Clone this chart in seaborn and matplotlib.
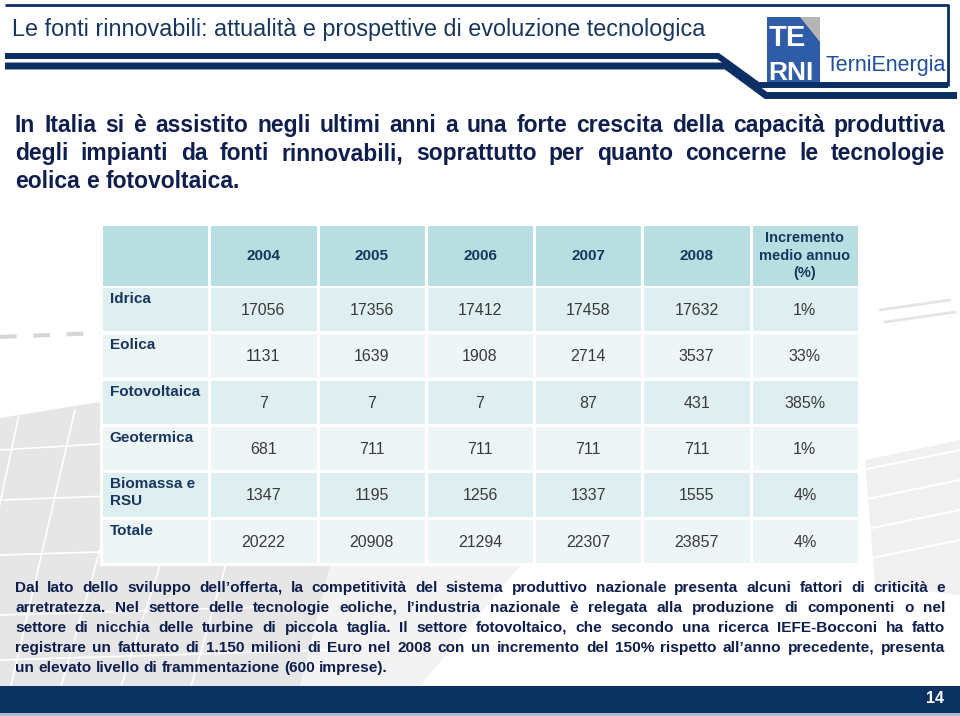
import numpy as np
import pandas as pd
import matplotlib
matplotlib.use("Agg")
import matplotlib.pyplot as plt
import seaborn as sns
from matplotlib.colors import ListedColormap
from matplotlib.patches import Polygon, Rectangle

# dati della tabella (MW installati)
fonti = ["Idrica", "Eolica", "Fotovoltaica", "Geotermica", "Biomassa e\nRSU", "Totale"]
anni = ["2004", "2005", "2006", "2007", "2008"]
idrica = [17056, 17356, 17412, 17458, 17632]
eolica = [1131, 1639, 1908, 2714, 3537]
fotovoltaica = [7, 7, 7, 87, 431]
geotermica = [681, 711, 711, 711, 711]
biomassa = [1347, 1195, 1256, 1337, 1555]
totale = [20222, 20908, 21294, 22307, 23857]
incremento = ["1%", "33%", "385%", "1%", "4%", "4%"]

titolo = "Le fonti rinnovabili: attualità e prospettive di evoluzione tecnologica"
intro = ["In Italia si è assistito negli ultimi anni a una forte crescita della capacità produttiva",
         "degli impianti da fonti rinnovabili, soprattutto per quanto concerne le tecnologie",
         "eolica e fotovoltaica."]
nota = ["Dal lato dello sviluppo dell’offerta, la competitività del sistema produttivo nazionale presenta alcuni fattori di criticità e",
        "arretratezza. Nel settore delle tecnologie eoliche, l’industria nazionale è relegata alla produzione di componenti o nel",
        "settore di nicchia delle turbine di piccola taglia. Il settore fotovoltaico, che secondo una ricerca IEFE-Bocconi ha fatto",
        "registrare un fatturato di 1.150 milioni di Euro nel 2008 con un incremento del 150% rispetto all’anno precedente, presenta",
        "un elevato livello di frammentazione (600 imprese)."]
pagina = "14"

tab = pd.DataFrame([idrica, eolica, fotovoltaica, geotermica, biomassa, totale],
                   index=fonti, columns=anni)
tab["Incremento"] = incremento

sns.set_theme(style="white")
FONT = ["Liberation Sans", "DejaVu Sans"]
plt.rcParams["font.family"] = FONT

NAVY = "#0b2f64"
W, H = 960, 716
fig = plt.figure(figsize=(9.6, 7.16), dpi=100)
fig.patch.set_facecolor("white")

# asse di sfondo in pixel
bg = fig.add_axes([0, 0, 1, 1])
bg.set_xlim(0, W)
bg.set_ylim(H, 0)
bg.axis("off")

# sfondo grigio sbiadito (foto pannelli)
bg.add_patch(Polygon([(0, 418), (100, 402), (100, 566), (330, 566), (300, 686), (0, 686)],
                     closed=True, color="#dedede", alpha=0.75, lw=0, zorder=0))
bg.add_patch(Polygon([(330, 566), (520, 566), (420, 686), (300, 686)],
                     closed=True, color="#eeeeee", alpha=0.7, lw=0, zorder=0))
for x0, x1 in [(20, -40), (75, 10), (140, 60), (210, 120), (270, 190)]:
    bg.plot([x0, x1], [410, 690], color="white", lw=1.2, zorder=1)
for y0, y1 in [(450, 430), (500, 488), (555, 545), (615, 605), (660, 650)]:
    bg.plot([0, 330], [y0, y1], color="white", lw=1.2, zorder=1)
bg.plot([0, 100], [337, 333], color="#d6d6d6", lw=3, ls=(0, (4, 4)), zorder=0)
bg.add_patch(Polygon([(865, 460), (960, 440), (960, 595), (875, 585)],
                     closed=True, color="#e6e6e6", alpha=0.6, lw=0, zorder=0))
for yy in [470, 500, 530, 560]:
    bg.plot([862, 960], [yy, yy - 20], color="white", lw=1.5, zorder=1)
bg.plot([880, 950], [310, 300], color="#e4e4e4", lw=2, zorder=0)
bg.plot([885, 955], [322, 312], color="#e4e4e4", lw=2, zorder=0)

# cornice superiore
bg.plot([5, 948, 948], [5, 5, 86], color=NAVY, lw=2, solid_capstyle="butt", zorder=3)
bg.plot([5, 718, 758, 948], [56, 56, 85, 85], color=NAVY, lw=4.3,
        solid_joinstyle="miter", solid_capstyle="butt", zorder=3)
bg.plot([5, 726, 766, 957], [66, 66, 95.5, 95.5], color=NAVY, lw=5,
        solid_joinstyle="miter", solid_capstyle="butt", zorder=3)

bg.text(12, 36, titolo, fontsize=16.8, color="#17365d", va="baseline", ha="left")

# logo
bg.add_patch(Rectangle((767, 17), 53, 65, color="#2e5ca8", lw=0, zorder=3))
bg.add_patch(Polygon([(800, 17), (820, 17), (820, 42)], closed=True, color="#b5b5b5", lw=0, zorder=4))
bg.text(769, 46, "TE", color="white", fontsize=21, fontweight="bold", va="baseline", ha="left",
        zorder=5)
bg.text(768, 80, "RNI", color="white", fontsize=19, fontweight="bold", va="baseline", ha="left",
        zorder=5)
bg.text(826, 71, "TerniEnergia", color="#1f4f9f", fontsize=15.5, va="baseline", ha="left",
        zorder=5)

renderer = fig.canvas.get_renderer()


def justify(line, y, x0, x1, last=False, **kw):
    words = line.split(" ")
    ts = [bg.text(0, y, w, va="baseline", ha="left", **kw) for w in words]
    ws = [t.get_window_extent(renderer).width for t in ts]
    if last:
        a = bg.text(0, y, "a a", **kw)
        b = bg.text(0, y, "aa", **kw)
        gap = a.get_window_extent(renderer).width - b.get_window_extent(renderer).width
        a.remove()
        b.remove()
    else:
        gap = (x1 - x0 - sum(ws)) / (len(words) - 1)
    x = x0
    for t, w in zip(ts, ws):
        t.set_x(x)
        x += w + gap


for k, line in enumerate(intro):
    justify(line, 132 + 28 * k, 15, 945, last=(k == len(intro) - 1),
            fontsize=16.5, fontweight="bold", color="#0f1f4d")

for k, line in enumerate(nota):
    justify(line, 592 + 20 * k, 15, 945, last=(k == len(nota) - 1),
            fontsize=11.1, fontweight="bold", color="#0f1f4d")

# piè di pagina
bg.add_patch(Rectangle((0, 686), W, 27, color="#0c3262", lw=0, zorder=3))
bg.add_patch(Rectangle((0, 713), W, 3, color="#a9bccf", lw=0, zorder=3))
bg.text(944, 703, pagina, color="white", fontsize=11.5, fontweight="bold", ha="right", va="baseline",
        zorder=4)


# tabella
def px_axes(x0, y0, x1, y1):
    return fig.add_axes([x0 / W, 1 - y1 / H, (x1 - x0) / W, (y1 - y0) / H])


hdr_ax = px_axes(101, 224, 859, 287)
sns.heatmap(np.zeros((1, 7)), ax=hdr_ax, cmap=ListedColormap(["#b8dee2"]), cbar=False,
            linewidths=1.8, linecolor="white", xticklabels=False, yticklabels=False)
for j, a in enumerate(anni):
    hdr_ax.text(j + 1.5, 0.5, a, ha="center", va="center", fontsize=11, fontweight="bold",
                color="#17375e")
hdr_ax.text(6.5, 0.5, "Incremento\nmedio annuo\n(%)", ha="center", va="center", fontsize=10.5,
            fontweight="bold", color="#17375e", linespacing=1.3)

body_ax = px_axes(101, 286, 859, 564)
shade = np.array([[i % 2] * 7 for i in range(len(fonti))])
sns.heatmap(shade, ax=body_ax, cmap=ListedColormap(["#dfeef0", "#edf5f6"]), cbar=False,
            linewidths=1.8, linecolor="white", xticklabels=False, yticklabels=False)
for i, f in enumerate(tab.index):
    body_ax.text(0.08, i + 0.13, f, ha="left", va="top", fontsize=11, fontweight="bold",
                 color="#17375e", linespacing=1.2)
    for j, c in enumerate(tab.columns):
        body_ax.text(j + 1.5, i + 0.53, str(tab.loc[f, c]), ha="center", va="center",
                     fontsize=11.5, color="#3a3a3a")

fig.savefig("out.png", dpi=100)
